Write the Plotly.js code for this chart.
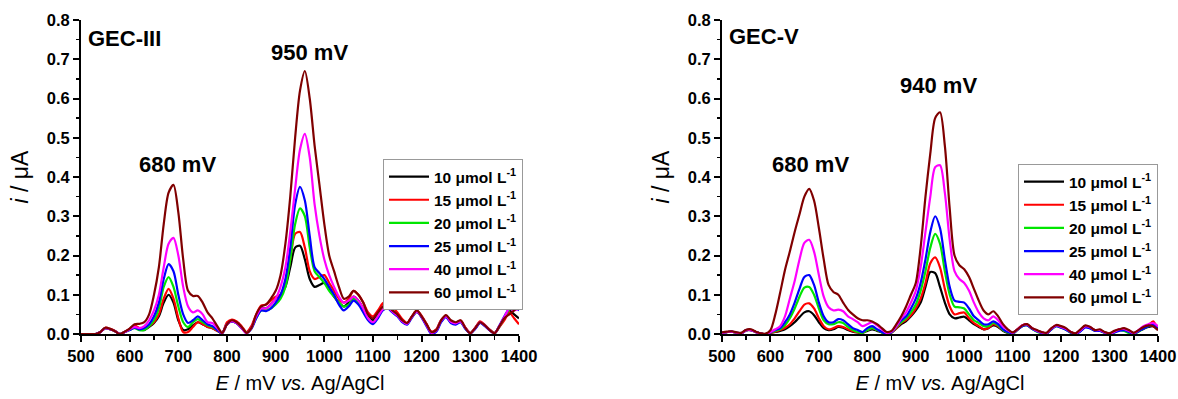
<!DOCTYPE html>
<html>
<head>
<meta charset="utf-8">
<script src="https://cdn.plot.ly/plotly-3.0.1.min.js"></script>
<style>html,body{margin:0;padding:0;background:#fff;}#chart{width:1178px;height:399px;}</style>
</head>
<body>
<div id="chart"></div>
<script>
// Potential E (mV vs. Ag/AgCl)
var potential = [500,510,520,530,540,550,560,570,580,590,600,610,620,630,640,650,660,670,680,690,700,710,720,730,740,750,760,770,780,790,800,810,820,830,840,850,860,870,880,890,900,910,920,930,940,950,960,970,980,990,1000,1010,1020,1030,1040,1050,1060,1070,1080,1090,1100,1110,1120,1130,1140,1150,1160,1170,1180,1190,1200,1210,1220,1230,1240,1250,1260,1270,1280,1290,1300,1310,1320,1330,1340,1350,1360,1370,1380,1390,1400];

var seriesNames = ['10 μmol L<sup>-1</sup>','15 μmol L<sup>-1</sup>','20 μmol L<sup>-1</sup>','25 μmol L<sup>-1</sup>','40 μmol L<sup>-1</sup>','60 μmol L<sup>-1</sup>'];
var seriesColors = ['#000000','#ff0000','#00e600','#0000ff','#ff00ff','#800000'];

// GEC-III current (μA)
var gec3_10 = [0,0,0,0,0.005,0.015,0.012,0.007,0,0.005,0.012,0.02,0.012,0.01,0.018,0.028,0.045,0.08,0.1,0.08,0.035,0.01,0.012,0.022,0.03,0.025,0.018,0.015,0.008,0.002,0.025,0.033,0.028,0.016,0.003,0.016,0.045,0.065,0.065,0.075,0.09,0.1,0.12,0.17,0.22,0.225,0.19,0.14,0.12,0.125,0.13,0.115,0.095,0.08,0.07,0.08,0.095,0.085,0.065,0.045,0.035,0.05,0.068,0.072,0.06,0.05,0.035,0.027,0.044,0.057,0.044,0.024,0.005,0.01,0.034,0.045,0.031,0.027,0.032,0.015,0.002,0.015,0.03,0.022,0.01,0.002,0.02,0.04,0.06,0.05,0.04];
var gec3_15 = [0,0,0,0,0.005,0.016,0.013,0.008,0,0.006,0.013,0.022,0.015,0.012,0.02,0.03,0.05,0.09,0.115,0.09,0.04,0.005,0.005,0.018,0.03,0.025,0.018,0.015,0.008,0.002,0.03,0.037,0.032,0.02,0.005,0.02,0.05,0.072,0.075,0.085,0.095,0.1,0.13,0.19,0.255,0.26,0.22,0.16,0.14,0.145,0.15,0.13,0.11,0.09,0.08,0.09,0.11,0.1,0.08,0.055,0.045,0.06,0.078,0.085,0.07,0.055,0.038,0.028,0.045,0.06,0.046,0.026,0.006,0.012,0.036,0.047,0.033,0.028,0.034,0.016,0.003,0.016,0.032,0.023,0.011,0.003,0.018,0.035,0.055,0.04,0.025];
var gec3_20 = [0,0,0,0,0.005,0.015,0.012,0.007,0,0.005,0.01,0.015,0.01,0.01,0.02,0.035,0.065,0.12,0.145,0.12,0.07,0.03,0.018,0.03,0.038,0.03,0.022,0.018,0.01,0.002,0.025,0.032,0.028,0.016,0.003,0.014,0.04,0.06,0.06,0.065,0.075,0.09,0.12,0.19,0.28,0.32,0.3,0.22,0.16,0.145,0.13,0.11,0.095,0.08,0.07,0.075,0.09,0.08,0.06,0.04,0.03,0.045,0.065,0.07,0.058,0.048,0.033,0.026,0.043,0.056,0.043,0.023,0.003,0.009,0.033,0.044,0.03,0.026,0.031,0.014,0.002,0.014,0.029,0.021,0.01,0.002,0.02,0.042,0.062,0.068,0.065];
var gec3_25 = [0,0,0,0,0.005,0.015,0.012,0.007,0,0.005,0.01,0.016,0.012,0.015,0.025,0.045,0.08,0.14,0.178,0.16,0.1,0.05,0.028,0.035,0.045,0.035,0.025,0.02,0.01,0.002,0.025,0.032,0.027,0.015,0.002,0.013,0.04,0.06,0.058,0.065,0.08,0.1,0.14,0.22,0.33,0.375,0.34,0.25,0.17,0.155,0.14,0.12,0.1,0.075,0.06,0.07,0.085,0.075,0.055,0.035,0.025,0.04,0.06,0.065,0.055,0.045,0.03,0.024,0.042,0.056,0.042,0.02,0.0,0.006,0.03,0.043,0.028,0.024,0.03,0.013,0.002,0.013,0.028,0.02,0.009,0.002,0.022,0.045,0.065,0.07,0.06];
var gec3_40 = [0,0,0,0,0.005,0.015,0.012,0.007,0,0.005,0.012,0.018,0.015,0.02,0.035,0.06,0.1,0.17,0.23,0.245,0.2,0.12,0.07,0.055,0.06,0.05,0.03,0.028,0.015,0.002,0.025,0.033,0.028,0.015,0.002,0.015,0.045,0.065,0.065,0.075,0.09,0.12,0.17,0.26,0.37,0.47,0.51,0.45,0.33,0.25,0.19,0.15,0.12,0.095,0.08,0.085,0.095,0.085,0.065,0.04,0.03,0.045,0.063,0.068,0.057,0.047,0.033,0.026,0.044,0.057,0.044,0.023,0.003,0.009,0.034,0.045,0.031,0.027,0.032,0.015,0.002,0.015,0.03,0.022,0.01,0.002,0.021,0.043,0.065,0.06,0.065];
var gec3_60 = [0,0,0,0,0.005,0.016,0.013,0.007,0,0.006,0.014,0.025,0.026,0.03,0.05,0.1,0.17,0.28,0.36,0.38,0.31,0.19,0.11,0.097,0.097,0.08,0.055,0.04,0.02,0.003,0.025,0.035,0.03,0.018,0.003,0.015,0.05,0.07,0.075,0.09,0.11,0.15,0.23,0.35,0.5,0.62,0.67,0.6,0.48,0.38,0.28,0.2,0.16,0.12,0.09,0.095,0.11,0.1,0.08,0.05,0.04,0.055,0.07,0.075,0.06,0.05,0.035,0.028,0.045,0.06,0.045,0.025,0.005,0.01,0.035,0.048,0.035,0.03,0.035,0.015,0.002,0.015,0.03,0.022,0.01,0.002,0.02,0.04,0.05,0.06,0.072];

// GEC-V current (μA)
var gec5_10 = [0.003,0.005,0.006,0.003,0.002,0.009,0.01,0.005,0.001,0,0.003,0.005,0.008,0.012,0.02,0.03,0.043,0.055,0.058,0.048,0.03,0.015,0.01,0.012,0.018,0.016,0.01,0.006,0.004,0.003,0.008,0.012,0.008,0.004,0.001,0.004,0.014,0.025,0.033,0.045,0.06,0.08,0.12,0.158,0.155,0.12,0.08,0.05,0.04,0.042,0.044,0.035,0.025,0.018,0.012,0.015,0.022,0.018,0.008,0.003,0.001,0.011,0.021,0.023,0.014,0.008,0.004,0.002,0.013,0.021,0.017,0.012,0.005,0.001,0.009,0.019,0.016,0.009,0.009,0.004,0.001,0.005,0.011,0.012,0.007,0.002,0.007,0.013,0.018,0.02,0.01];
var gec5_15 = [0.003,0.005,0.006,0.003,0.002,0.01,0.01,0.005,0.001,0,0.003,0.006,0.01,0.016,0.025,0.04,0.058,0.075,0.078,0.065,0.04,0.02,0.012,0.015,0.02,0.018,0.012,0.007,0.004,0.003,0.01,0.015,0.01,0.005,0.001,0.004,0.015,0.028,0.036,0.048,0.065,0.09,0.13,0.18,0.195,0.17,0.115,0.07,0.05,0.053,0.055,0.04,0.028,0.02,0.012,0.015,0.025,0.02,0.01,0.004,0.001,0.012,0.022,0.024,0.015,0.008,0.004,0.002,0.014,0.022,0.018,0.013,0.005,0.001,0.01,0.02,0.017,0.01,0.01,0.004,0.001,0.006,0.012,0.013,0.008,0.002,0.008,0.015,0.022,0.032,0.01];
var gec5_20 = [0.003,0.005,0.006,0.003,0.002,0.01,0.01,0.005,0.001,0,0.004,0.008,0.012,0.022,0.04,0.065,0.095,0.118,0.12,0.1,0.065,0.035,0.025,0.025,0.03,0.028,0.018,0.01,0.005,0.003,0.01,0.015,0.01,0.004,0,0.004,0.018,0.03,0.04,0.055,0.075,0.11,0.16,0.22,0.255,0.23,0.16,0.1,0.07,0.068,0.065,0.05,0.035,0.028,0.02,0.02,0.028,0.022,0.01,0.004,0.001,0.011,0.02,0.022,0.013,0.006,0.002,0.001,0.012,0.02,0.016,0.011,0.003,0,0.008,0.018,0.015,0.008,0.008,0.003,0,0.004,0.01,0.008,0.002,0,0.006,0.014,0.02,0.022,0.012];
var gec5_25 = [0.003,0.005,0.006,0.003,0.002,0.01,0.01,0.005,0.001,0,0.004,0.01,0.015,0.03,0.05,0.08,0.115,0.145,0.15,0.125,0.08,0.045,0.03,0.03,0.038,0.035,0.025,0.015,0.01,0.005,0.015,0.02,0.012,0.005,0,0.005,0.02,0.035,0.045,0.065,0.09,0.13,0.19,0.26,0.3,0.27,0.19,0.12,0.085,0.082,0.08,0.065,0.045,0.035,0.025,0.025,0.032,0.025,0.012,0.005,0.002,0.011,0.02,0.022,0.013,0.007,0.003,0.001,0.012,0.02,0.016,0.011,0.004,0,0.007,0.017,0.014,0.008,0.008,0.003,0,0.004,0.008,0.01,0.005,0.001,0.007,0.014,0.02,0.024,0.012];
var gec5_40 = [0.003,0.005,0.006,0.003,0.002,0.01,0.01,0.005,0.001,0,0.005,0.012,0.02,0.045,0.09,0.135,0.19,0.232,0.24,0.21,0.15,0.095,0.068,0.06,0.062,0.058,0.045,0.038,0.03,0.02,0.025,0.03,0.022,0.012,0.003,0.006,0.02,0.04,0.055,0.08,0.11,0.17,0.26,0.35,0.425,0.43,0.36,0.24,0.16,0.14,0.13,0.11,0.08,0.055,0.04,0.035,0.045,0.035,0.02,0.01,0.003,0.012,0.022,0.024,0.015,0.008,0.004,0.002,0.014,0.022,0.018,0.013,0.005,0.001,0.01,0.02,0.017,0.01,0.01,0.004,0.001,0.006,0.012,0.013,0.008,0.002,0.01,0.02,0.025,0.028,0.02];
var gec5_60 = [0.004,0.006,0.007,0.004,0.003,0.011,0.012,0.006,0.002,0.001,0.01,0.05,0.105,0.163,0.21,0.26,0.305,0.35,0.37,0.34,0.27,0.19,0.125,0.107,0.1,0.08,0.062,0.05,0.04,0.035,0.035,0.032,0.025,0.015,0.005,0.008,0.025,0.045,0.07,0.1,0.13,0.22,0.35,0.46,0.55,0.565,0.48,0.32,0.2,0.175,0.165,0.145,0.115,0.085,0.06,0.05,0.058,0.045,0.025,0.012,0.004,0.012,0.022,0.025,0.015,0.01,0.005,0.003,0.015,0.023,0.02,0.015,0.005,0.002,0.012,0.022,0.018,0.01,0.012,0.005,0.002,0.008,0.012,0.015,0.01,0.003,0.01,0.018,0.022,0.02,0.01];

var gec3 = [gec3_10, gec3_15, gec3_20, gec3_25, gec3_40, gec3_60];
var gec5 = [gec5_10, gec5_15, gec5_20, gec5_25, gec5_40, gec5_60];

var FONT = 'Arial, "Liberation Sans", sans-serif';
var traces = [];
function addPanel(set, xa, ya, lg) {
  for (var i = 0; i < set.length; i++) {
    traces.push({
      x: potential, y: set[i], type: 'scatter', mode: 'lines',
      name: seriesNames[i], xaxis: xa, yaxis: ya, legend: lg,
      line: {color: seriesColors[i], width: 2.2, shape: 'spline', smoothing: 0.8},
      hoverinfo: 'skip'
    });
  }
}
addPanel(gec3, 'x', 'y', 'legend');
addPanel(gec5, 'x2', 'y2', 'legend2');

function xAxis(domain, anchor) {
  return {
    domain: domain, anchor: anchor, range: [500, 1400], dtick: 100, tick0: 500,
    showline: true, linecolor: '#000', linewidth: 2, mirror: false,
    ticks: 'outside', ticklen: 6, tickwidth: 2, tickcolor: '#000',
    minor: {ticks: 'outside', ticklen: 3.5, tickwidth: 1.5, dtick: 50, tick0: 500, tickcolor: '#000'},
    showgrid: false, zeroline: false,
    tickfont: {family: FONT, size: 16.5, color: '#000', weight: 'bold'},
    title: {text: '<i>E</i> / mV <i>vs.</i> Ag/AgCl', font: {family: FONT, size: 20, color: '#000'}, standoff: 12}
  };
}
function yAxis(domain, anchor) {
  return {
    domain: domain, anchor: anchor, range: [0, 0.8], dtick: 0.1, tick0: 0, tickformat: '.1f',
    showline: true, linecolor: '#000', linewidth: 2, mirror: false,
    ticks: 'outside', ticklen: 6, tickwidth: 2, tickcolor: '#000',
    minor: {ticks: 'outside', ticklen: 3.5, tickwidth: 1.5, dtick: 0.05, tickcolor: '#000'},
    showgrid: false, zeroline: false,
    tickfont: {family: FONT, size: 16.5, color: '#000', weight: 'bold'},
    title: {text: '<i>i</i> / μA', font: {family: FONT, size: 23, color: '#000'}, standoff: 12}
  };
}

var W = 1178, H = 399;
var yd = [1 - 334 / H, 1 - 20 / H];
var legendBase = {
  xanchor: 'left', yanchor: 'top', bgcolor: '#fff', bordercolor: '#999', borderwidth: 1,
  font: {family: FONT, size: 15.5, color: '#000', weight: 'bold'}, itemwidth: 40, tracegroupgap: 0
};
var annFont = {family: FONT, size: 22, color: '#000', weight: 'bold'};
var layout = {
  width: W, height: H,
  margin: {l: 0, r: 0, t: 0, b: 0},
  paper_bgcolor: '#fff', plot_bgcolor: '#fff',
  showlegend: true,
  xaxis: xAxis([81 / W, 519 / W], 'y'),
  yaxis: yAxis(yd, 'x'),
  xaxis2: xAxis([722 / W, 1158 / W], 'y2'),
  yaxis2: yAxis(yd, 'x2'),
  legend: Object.assign({x: 383 / W, y: 1 - 159 / H}, legendBase),
  legend2: Object.assign({x: 1018 / W, y: 1 - 164 / H}, legendBase),
  annotations: [
    {text: 'GEC-III', x: 511, y: 0.752, xref: 'x', yref: 'y', xanchor: 'left', yanchor: 'middle', showarrow: false, font: annFont},
    {text: '950 mV', x: 970, y: 0.718, xref: 'x', yref: 'y', xanchor: 'center', yanchor: 'middle', showarrow: false, font: annFont},
    {text: '680 mV', x: 698, y: 0.433, xref: 'x', yref: 'y', xanchor: 'center', yanchor: 'middle', showarrow: false, font: annFont},
    {text: 'GEC-V', x: 511, y: 0.757, xref: 'x2', yref: 'y2', xanchor: 'left', yanchor: 'middle', showarrow: false, font: annFont},
    {text: '940 mV', x: 946, y: 0.634, xref: 'x2', yref: 'y2', xanchor: 'center', yanchor: 'middle', showarrow: false, font: annFont},
    {text: '680 mV', x: 683, y: 0.433, xref: 'x2', yref: 'y2', xanchor: 'center', yanchor: 'middle', showarrow: false, font: annFont}
  ]
};
Plotly.newPlot('chart', traces, layout, {displayModeBar: false, staticPlot: true});
</script>
</body>
</html>
